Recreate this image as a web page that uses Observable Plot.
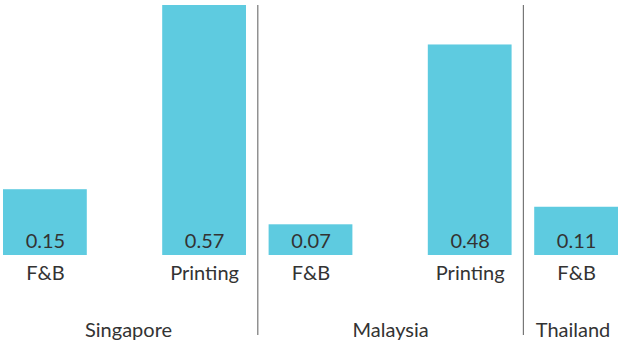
<!DOCTYPE html>
<html>
<head>
<meta charset="utf-8">
<script src="https://cdn.jsdelivr.net/npm/d3@7"></script>
<script src="https://cdn.jsdelivr.net/npm/@observablehq/plot@0.6"></script>
<style>
  html, body { margin: 0; padding: 0; background: #fff; }
  #chart svg { display: block; }
</style>
</head>
<body>
<div id="chart"></div>
<script>
const groups = ["Singapore", "Singapore", "Malaysia", "Malaysia", "Thailand"];
const categories = ["F&B", "Printing", "F&B", "Printing", "F&B"];
const values = [0.15, 0.57, 0.07, 0.48, 0.11];

// layout in bar-width units: inner step within a group, outer step between groups
const innerStep = 1.9, outerStep = 1.27, edge = 0.05;
const data = [];
let pos = 0;
groups.forEach((g, i) => {
  if (i > 0) pos += (groups[i - 1] === g) ? innerStep : outerStep;
  data.push({group: g, category: categories[i], value: values[i], pos});
});
const separators = [];
for (let i = 1; i < data.length; i++) {
  if (data[i].group !== data[i - 1].group) separators.push((data[i].pos + data[i - 1].pos) / 2);
}
const bounds = [-0.5 - edge, ...separators, pos + 0.5 + edge];
const groupNames = [...new Set(groups)];
const groupLabels = groupNames.map((g, i) => ({group: g, pos: (bounds[i] + bounds[i + 1]) / 2}));

const font = "Lato, 'Open Sans', sans-serif";
const chart = Plot.plot({
  width: 619,
  height: 341,
  marginTop: 5,
  marginBottom: 86,
  marginLeft: 3,
  marginRight: 1,
  style: {fontFamily: font, color: "#333", background: "#fff"},
  x: {type: "linear", domain: [-0.5, pos + 0.5], axis: null},
  y: {domain: [0, 0.57], axis: null},
  marks: [
    Plot.rectY(data, {x1: d => d.pos - 0.5, x2: d => d.pos + 0.5, y: "value", fill: "#5ecbe0"}),
    Plot.ruleX(separators, {x: d => d, stroke: "#777", strokeWidth: 1.2, insetBottom: -80}),
    Plot.text(data, {x: "pos", y: 0, text: d => d.value.toFixed(2), dy: -14.4, fontSize: 20, fill: "#333", lineAnchor: "middle"}),
    Plot.text(data, {x: "pos", y: 0, text: "category", dy: 17.6, fontSize: 20, fill: "#333", lineAnchor: "middle"}),
    Plot.text(groupLabels, {x: "pos", y: 0, text: "group", dy: 74.6, fontSize: 20, fill: "#333", lineAnchor: "middle"})
  ]
});
document.getElementById("chart").append(chart);
</script>
</body>
</html>
